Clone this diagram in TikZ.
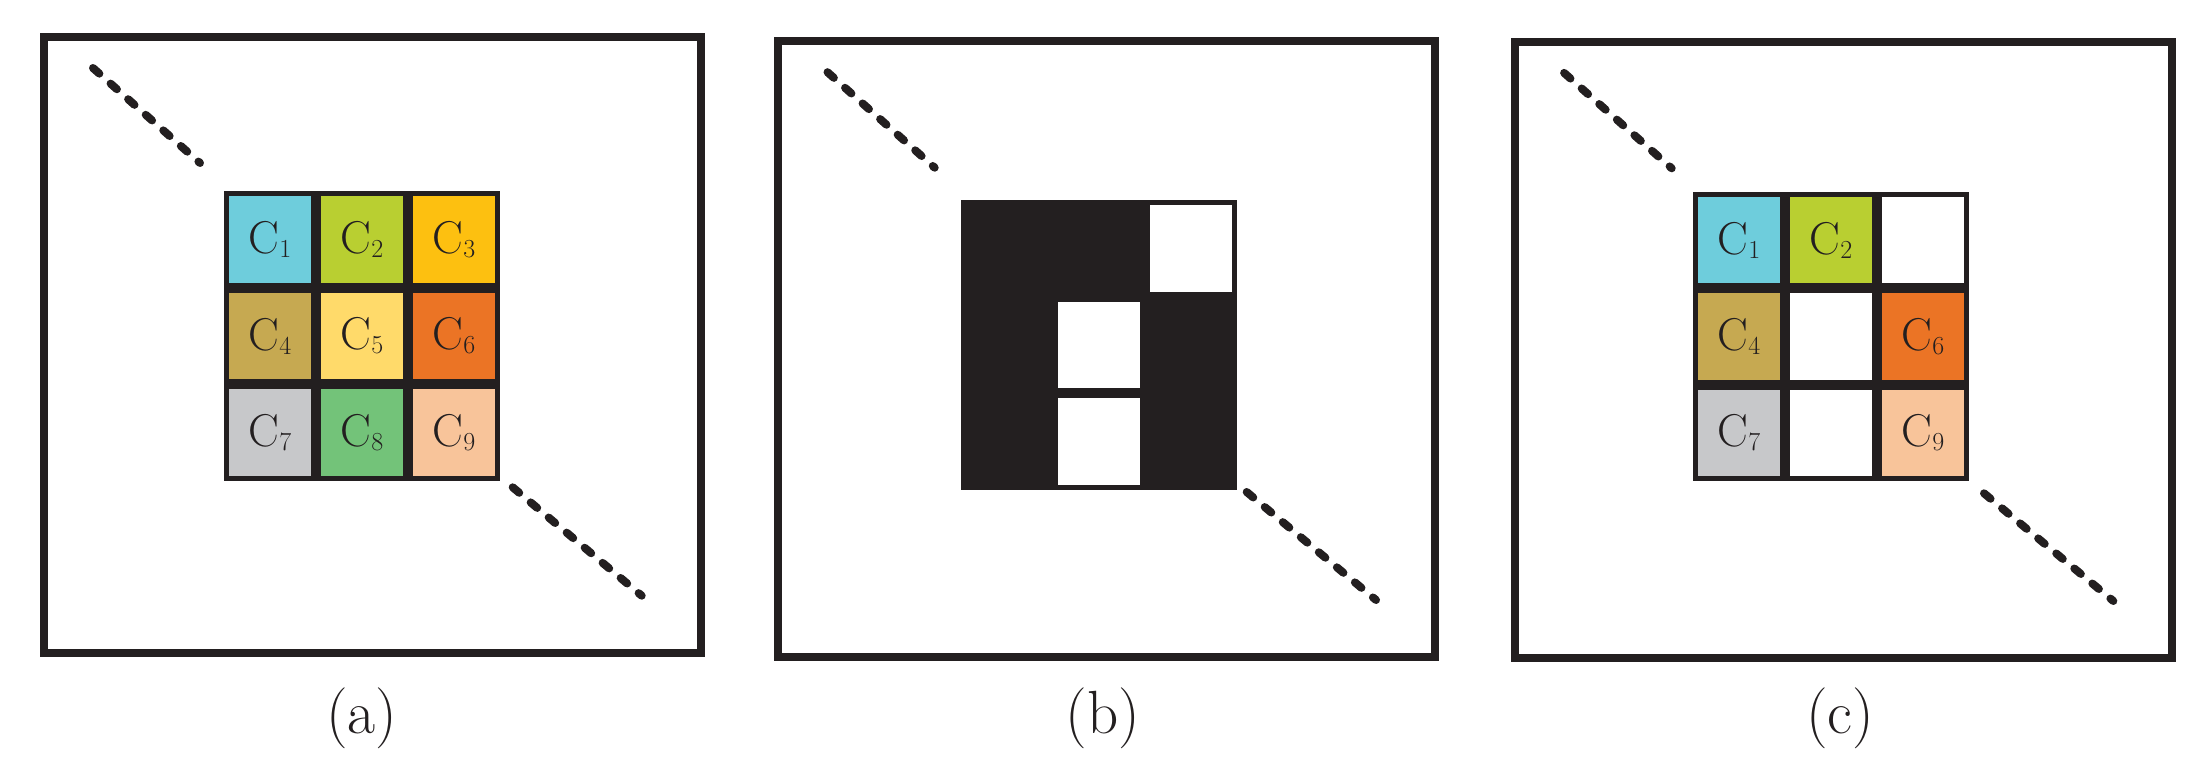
\documentclass[tikz,border=0pt]{standalone}
\usepackage{fontspec}
\usepackage{tikz}
\usetikzlibrary{matrix}
\usetikzlibrary{positioning}

\definecolor{ink}{HTML}{231F20}
\definecolor{cone}{HTML}{6ECDDC}
\definecolor{ctwo}{HTML}{B9CF31}
\definecolor{cthree}{HTML}{FDC010}
\definecolor{cfour}{HTML}{C6A951}
\definecolor{cfive}{HTML}{FFDA6A}
\definecolor{csix}{HTML}{EB7425}
\definecolor{cseven}{HTML}{C7C8CA}
\definecolor{ceight}{HTML}{73C379}
\definecolor{cnine}{HTML}{F8C49A}

\newcommand{\cname}[1]{C\raisebox{-4pt}{\fontsize{26}{26}\selectfont #1}}

\begin{document}
\begin{tikzpicture}[x=1pt,y=-1pt,
  frame/.style={draw=ink,line width=8pt,minimum width=657pt,minimum height=616pt,inner sep=0pt,outer sep=0pt},
  grid/.style={matrix of nodes,nodes in empty cells,inner sep=0pt,outer sep=0pt,column sep=0pt,row sep=0pt,
    nodes={draw=ink,line width=5pt,minimum width=87pt,minimum height=91.5pt,inner sep=0pt,outer sep=0pt,anchor=center,text=ink,font=\fontsize{46}{46}\selectfont}},
  dots/.style={draw=ink,line width=8pt,line cap=round,dash pattern=on 8.5pt off 15pt},
  caption/.style={text=ink,font=\fontsize{61}{61}\selectfont}]

\useasboundingbox (0,0) rectangle (2200,760);

% the three panels
\node[frame] (fa) at (372,345) {};
\node[frame] (fb) at (1106.7,349.2) {};
\node[frame] (fc) at (1843.4,350.3) {};

\matrix[grid] (ma) at (362,336) {
|[fill=cone]| \cname{1} & |[fill=ctwo]| \cname{2} & |[fill=cthree]| \cname{3} \\
|[fill=cfour]| \cname{4} & |[fill=cfive]| \cname{5} & |[fill=csix]| \cname{6} \\
|[fill=cseven]| \cname{7} & |[fill=ceight]| \cname{8} & |[fill=cnine]| \cname{9} \\
};

\matrix[grid,nodes={fill=ink}] (mb) at (1098.6,345) {
 & & |[fill=white]| \\
 & |[fill=white]| & \\
 & |[fill=white]| & \\
};

\matrix[grid] (mc) at (1831,336.6) {
|[fill=cone]| \cname{1} & |[fill=ctwo]| \cname{2} & |[fill=white]| \\
|[fill=cfour]| \cname{4} & |[fill=white]| & |[fill=csix]| \cname{6} \\
|[fill=cseven]| \cname{7} & |[fill=white]| & |[fill=cnine]| \cname{9} \\
};

% dotted diagonals
\draw[dots] (93,68) -- (200,163);
\draw[dots] (512.7,487.3) -- (641.7,595.7);
\draw[dots] (827.5,72.2) -- (934.7,167.7);
\draw[dots] (1246.7,492) -- (1376,600);
\draw[dots] (1564.1,72.9) -- (1671.7,168.3);
\draw[dots] (1984,493.3) -- (2113.3,601);

\node[caption,below=80pt of fa.south,anchor=base,xshift=-10.3pt] (capa) {(a)};
\node[caption,below=76pt of fb.south,anchor=base,xshift=-4pt] (capb) {(b)};
\node[caption,below=75pt of fc.south,anchor=base,xshift=-3.4pt] (capc) {(c)};
\end{tikzpicture}
\end{document}
